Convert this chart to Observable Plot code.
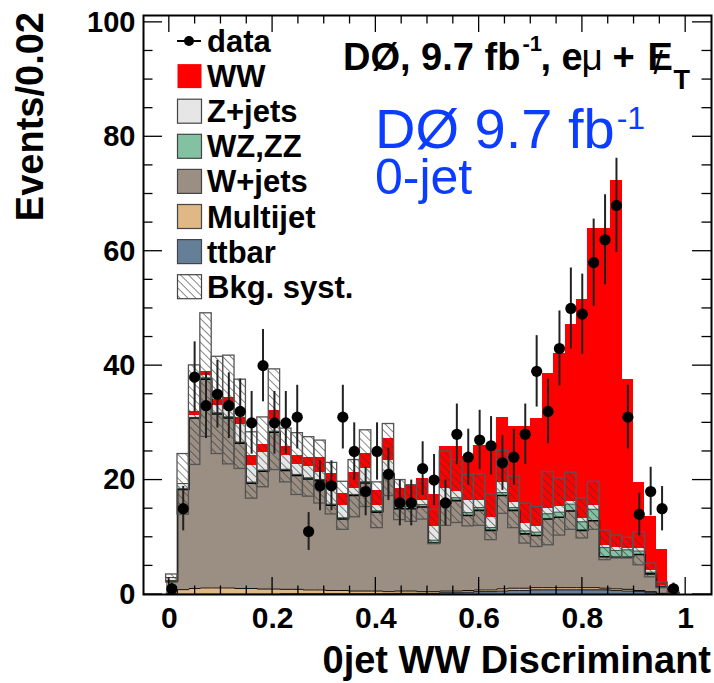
<!DOCTYPE html>
<html><head><meta charset="utf-8">
<script src="https://cdn.jsdelivr.net/npm/d3@7"></script>
<script src="https://cdn.jsdelivr.net/npm/@observablehq/plot@0.6"></script>
<style>
html,body{margin:0;padding:0;background:#fff;}
#chart{width:714px;height:683px;position:relative;}
</style></head><body><div id="chart"></div>
<script>
// ---- binning of the discriminant histogram ----
const binLow = -0.0062, binWidth = 0.02208;

// ---- data (events per bin) ----
const dataCounts = [1,15,38,33,35,33,32,30,40,30, 30,31,11,19,19,31,25,18,25,21, 16,16,22,20,16,28,24,27,26,23, 24,28,39,32,43,50,49,58,62,68, 31,14,18,15,1];

// ---- stacked predictions (bottom to top) ----
const ttbar = [0,0.05,0.05,0.05,0.05,0.05,0.05,0.05,0.05,0.05, 0.1,0.1,0.1,0.1,0.1,0.1,0.1,0.1,0.1,0.1, 0.2,0.2,0.2,0.2,0.3,0.3,0.4,0.5,0.5,0.6, 0.7,0.7,0.8,0.8,0.8,0.8,0.8,0.8,0.8,0.7, 0.6,0.5,0.3,0.1,0];
const multijet = [0.2,0.8,1.0,1.1,1.1,1.1,1.0,1.0,0.9,0.9, 0.8,0.8,0.7,0.7,0.6,0.6,0.5,0.5,0.5,0.4, 0.4,0.4,0.3,0.3,0.3,0.3,0.3,0.3,0.3,0.4, 0.4,0.4,0.4,0.4,0.4,0.4,0.4,0.4,0.3,0.3, 0.3,0.2,0.2,0.1,0];
const wjets = [2.1,17.5,29.8,36.5,30.4,29.7,25.4,18.4,20.6,27.4, 20.8,19.9,19.4,19.1,14.9,12.5,16.7,18.9,13.8,20.6, 14.4,14.4,14.8,8.5,15.3,15.8,13.1,13.9,10.4,16.3, 13.6,9.5,9.1,12,12.3,13.4,10,11.7,5.5,5.5, 5.6,6.3,3.1,1.1,0.3];
const wzzz = [0.1,0.1,0.1,0.2,0.2,0.2,0.2,0.2,0.2,0.2, 0.2,0.2,0.2,0.2,0.2,0.2,0.2,0.2,0.2,0.2, 0.4,0.4,0.4,0.5,0.5,0.5,0.5,0.5,0.5,0.5, 0.5,0.5,0.6,0.9,0.9,1.2,1.5,2.0,1.6,1.2, 1.3,0.6,0.3,0.2,0];
const zjets = [0.4,0.8,0.4,0.5,1.3,1.2,3.1,2.9,3.1,2.0, 2.4,1.8,1.9,1.3,2.7,2.1,1.0,2.3,1.0,2.2, 1.1,0.5,0.7,2.3,2.1,1.1,2.1,1.3,1.8,1.8, 0.9,1.3,0.9,0.9,0.9,0.5,0.6,0.6,0.4,0.6, 0.3,0.4,0.3,0.1,0.1];
const ww = [0.1,0.2,0.7,0.7,1.1,2.1,1.2,1.8,1.3,1.6, 1.5,1.5,1.7,2.6,2.6,2.1,2.9,2.7,2.6,3.8, 2.0,3.2,3.8,5.7,7.3,7.8,7.7,9.5,12.5,11.4, 13.3,17,18.9,23.6,26.8,30.9,38.3,48.5,55.3,64.1, 29.5,11.5,9.5,6.2,0.2];
// ---- background systematic (absolute half-width around total background) ----
const bkgSyst = [0.7,5.3,8.7,10.8,8.5,9.5,7.8,5.8,6.1,8.8, 4.7,5.4,5.2,5.5,4.5,4.2,5,6.7,4,6.3, 3.5,3.2,3.3,3,6.5,5.5,4.5,4.5,4,5.5, 4.5,3.5,3.5,6.4,5,5,3.5,4.2,2.6,2, 1.8,2.9,1.2,0.5,0.2];

const components = ["ttbar","Multijet","W+jets","WZ,ZZ","Z+jets","WW"];
const componentValues = [ttbar, multijet, wjets, wzzz, zjets, ww];
const componentColors = ["#667f99","#dfb886","#9b8e82","#82c2a2","#e6e6e6","#ff0000"];

const legendLabels = ["data","WW","Z+jets","WZ,ZZ","W+jets","Multijet","ttbar","Bkg. syst."];

const yTicks = [0,20,40,60,80,100];
const xTicks = [0,0.2,0.4,0.6,0.8,1];
const xTickLabels = ["0","0.2","0.4","0.6","0.8","1"];

// ---- derived tables ----
const nBins = dataCounts.length;
const stackRows = [];
const tops = components.map(() => []);
const bandRows = [];
const points = [];
for (let i = 0; i < nBins; i++) {
  const lo = binLow + i * binWidth, hi = lo + binWidth;
  let cum = 0;
  components.forEach((c, k) => {
    const v = componentValues[k][i];
    stackRows.push({lo, hi, y1: cum, y2: cum + v, comp: c});
    cum += v;
    tops[k].push({lo, hi, top: cum});
  });
  const bkg = cum - ww[i];
  bandRows.push({lo, hi, b1: Math.max(0, bkg - bkgSyst[i]), b2: bkg + bkgSyst[i]});
  const n = dataCounts[i];
  points.push({c: (lo + hi) / 2, n, elo: Math.max(0, n - Math.sqrt(n)), ehi: n + Math.sqrt(n)});
}
function steps(rows) {
  const out = [];
  rows.forEach(r => { out.push({x: r.lo, y: r.top}); out.push({x: r.hi, y: r.top}); });
  return out;
}

const FONT = "'Liberation Sans', Arial, Helvetica, sans-serif";

const plot = Plot.plot({
  width: 714, height: 683,
  marginLeft: 143, marginRight: 3, marginTop: 15, marginBottom: 89,
  x: {domain: [-0.05, 1.05]},
  y: {domain: [0, 101.2]},
  color: {domain: components, range: componentColors},
  style: {fontFamily: FONT, background: "white", overflow: "visible", color: "black"},
  marks: [
    Plot.rect(stackRows, {x1: "lo", x2: "hi", y1: "y1", y2: "y2", fill: "comp", inset: 0, shapeRendering: "crispEdges"}),
    Plot.line(steps(tops[0]), {x: "x", y: "y", stroke: "#222", strokeWidth: 1}),
    Plot.line(steps(tops[1]), {x: "x", y: "y", stroke: "#111", strokeWidth: 1}),
    Plot.line(steps(tops[2]), {x: "x", y: "y", stroke: "#000", strokeWidth: 1.6}),
    Plot.line(steps(tops[3]), {x: "x", y: "y", stroke: "#333", strokeWidth: 0.8}),
    Plot.rect(bandRows, {x1: "lo", x2: "hi", y1: "b1", y2: "b2", fill: "url(#hatch)", stroke: "#555", strokeWidth: 1.3, inset: 0}),
    Plot.ruleX(points, {x: "c", y1: "elo", y2: "ehi", stroke: "#222", strokeWidth: 2}),
    Plot.dot(points, {x: "c", y: "n", r: 5.6, fill: "black", stroke: "none"}),
    Plot.axisX(xTicks, {tickSize: 0, tickPadding: 12, fontSize: 30, fontWeight: "bold", tickFormat: d => xTickLabels[xTicks.indexOf(d)], label: null}),
    Plot.axisY(yTicks, {tickSize: 0, tickPadding: 8, fontSize: 29, fontWeight: "bold", label: null}),
    Plot.frame({stroke: "black", strokeWidth: 2})
  ]
});
document.getElementById("chart").appendChild(plot);

const svg = d3.select(plot);
// hatch pattern
const defs = svg.insert("defs", ":first-child");
const pat = defs.append("pattern").attr("id", "hatch").attr("patternUnits", "userSpaceOnUse")
  .attr("width", 5.6).attr("height", 5.6).attr("patternTransform", "rotate(-45)");
pat.append("line").attr("x1", 0).attr("y1", 0).attr("x2", 0).attr("y2", 5.6)
  .attr("stroke", "#3a3a3a").attr("stroke-width", 1.2);

const xs = plot.scale("x").apply, ys = plot.scale("y").apply;
const [x0, x1] = [xs(-0.05), xs(1.05)];
const [yb, yt] = [ys(0), ys(101.2)];
const g = svg.append("g").attr("stroke", "black").attr("stroke-width", 1.3);
// y ticks (inside, both sides)
d3.range(0, 101, 5).forEach(v => {
  const len = v % 20 === 0 ? 19 : 9.5;
  const y = ys(v);
  g.append("line").attr("x1", x0).attr("x2", x0 + len).attr("y1", y).attr("y2", y);
  g.append("line").attr("x1", x1).attr("x2", x1 - len).attr("y1", y).attr("y2", y);
});
// x ticks (inside, top and bottom)
d3.range(0, 21).forEach(k => {
  const v = k * 0.05;
  const len = k % 4 === 0 ? 17 : 8.5;
  const x = xs(v);
  g.append("line").attr("x1", x).attr("x2", x).attr("y1", yb).attr("y2", yb - len);
  g.append("line").attr("x1", x).attr("x2", x).attr("y1", yt).attr("y2", yt + len);
});

function txt(sel) {
  return sel.append("text").attr("font-family", FONT).attr("fill", "black").attr("text-anchor", "start");
}
// axis titles
txt(svg).attr("x", x1).attr("y", 673).attr("text-anchor", "end")
  .attr("font-weight", "bold").attr("font-size", 38)
  .text("0jet WW Discriminant");
txt(svg).attr("transform", "translate(43,12) rotate(-90)").attr("text-anchor", "end")
  .attr("font-weight", "bold").attr("font-size", 38)
  .text("Events/0.02");

// legend
const legendColor = {"WW": componentColors[5], "Z+jets": componentColors[4], "WZ,ZZ": componentColors[3],
  "W+jets": componentColors[2], "Multijet": componentColors[1], "ttbar": componentColors[0]};
const lg = svg.append("g");
legendLabels.forEach((lab, i) => {
  const cy = 41 + i * 35.1;
  if (lab === "data") {
    lg.append("line").attr("x1", 177).attr("x2", 201).attr("y1", cy).attr("y2", cy).attr("stroke", "black").attr("stroke-width", 2);
    lg.append("circle").attr("cx", 189).attr("cy", cy).attr("r", 5).attr("fill", "black");
  } else if (lab === "Bkg. syst.") {
    lg.append("rect").attr("x", 177.5).attr("y", cy - 12).attr("width", 24).attr("height", 24)
      .attr("fill", "url(#hatch)").attr("stroke", "#444").attr("stroke-width", 1.2);
  } else {
    lg.append("rect").attr("x", 177.5).attr("y", cy - 12).attr("width", 24).attr("height", 24)
      .attr("fill", legendColor[lab]).attr("stroke", lab === "WW" ? "none" : "#444").attr("stroke-width", 1.2);
  }
  txt(lg).attr("x", 207).attr("y", cy + 11).attr("font-weight", "bold")
    .attr("font-size", 31).text(lab);
});

// header (black): DØ, 9.7 fb^-1, eμ + E̸_T
const h1 = txt(svg).attr("x", 343).attr("y", 70).attr("font-weight", "bold").attr("font-size", 38).text("DØ, 9.7 fb");
const h1end = 343 + h1.node().getComputedTextLength();
txt(svg).attr("x", h1end + 2).attr("y", 51).attr("font-weight", "bold").attr("font-size", 22).text("-1");
txt(svg).attr("x", h1end + 20).attr("y", 70).attr("font-weight", "bold").attr("font-size", 38).text(", e");
txt(svg).attr("x", h1end + 61).attr("y", 70).attr("font-size", 37).text("μ");
txt(svg).attr("x", h1end + 92).attr("y", 70).attr("font-weight", "bold").attr("font-size", 38).text("+");
txt(svg).attr("x", h1end + 127).attr("y", 70).attr("font-weight", "bold").attr("font-size", 38).text("E");
txt(svg).attr("x", h1end + 133).attr("y", 74).attr("font-size", 34).text("/");
txt(svg).attr("x", h1end + 153).attr("y", 89).attr("font-weight", "bold").attr("font-size", 27).text("T");

// blue label
const blue = "#0b3cff";
const bl = txt(svg).attr("x", 375).attr("y", 148).attr("font-size", 56).attr("fill", blue).text("DØ 9.7 fb");
const blend = 375 + bl.node().getComputedTextLength();
txt(svg).attr("x", blend + 2).attr("y", 129).attr("font-size", 32).attr("fill", blue).text("-1");
txt(svg).attr("x", 375).attr("y", 194).attr("font-size", 50).attr("fill", blue).text("0-jet");
</script></body></html>
